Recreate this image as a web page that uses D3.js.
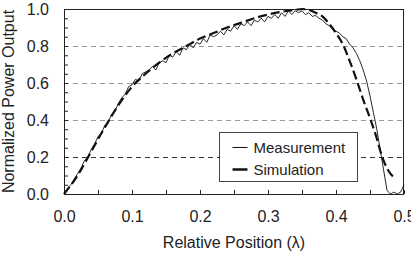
<!DOCTYPE html>
<html>
<head>
<meta charset="utf-8">
<script src="https://cdn.jsdelivr.net/npm/d3@7.9.0/dist/d3.min.js"></script>
<style>
  body { margin: 0; background: #fff; }
  text { font-family: "Liberation Sans", Arial, sans-serif; fill: #222; }
</style>
</head>
<body>
<script>
// measured curve, sampled every 0.005 from 0 to 0.5
const measStep = 0.005;
const measured = [
  0.00, 0.03, 0.05, 0.08, 0.11, 0.14, 0.18, 0.20, 0.24, 0.27,
  0.31, 0.33, 0.37, 0.39, 0.43, 0.45, 0.49, 0.52, 0.54, 0.58,
  0.59, 0.62, 0.61, 0.65, 0.66, 0.67, 0.69, 0.67, 0.71, 0.72,
  0.71, 0.75, 0.74, 0.77, 0.75, 0.79, 0.78, 0.81, 0.79, 0.82,
  0.81, 0.84, 0.82, 0.86, 0.85, 0.86, 0.88, 0.86, 0.89, 0.88,
  0.91, 0.89, 0.92, 0.91, 0.93, 0.91, 0.94, 0.93, 0.95, 0.93,
  0.96, 0.95, 0.97, 0.95, 0.98, 0.96, 0.99, 0.97, 0.99, 0.98,
  0.99, 0.97, 0.98, 0.96, 0.965, 0.95, 0.94, 0.92, 0.91, 0.89,
  0.88, 0.87, 0.85, 0.84, 0.81, 0.79, 0.76, 0.72, 0.67, 0.61,
  0.53, 0.44, 0.35, 0.24, 0.13, 0.02, 0.00, 0.01, 0.00, 0.01,
  0.05
];

// simulated curve
const simX = [0, 0.02, 0.04, 0.06, 0.08, 0.10, 0.12, 0.14, 0.16, 0.18,
  0.20, 0.22, 0.24, 0.26, 0.28, 0.30, 0.32, 0.34, 0.35, 0.36,
  0.37, 0.38, 0.39, 0.40, 0.41, 0.42, 0.43, 0.44, 0.45, 0.46,
  0.465, 0.47, 0.475, 0.48, 0.488];
const simY = [0, 0.10, 0.23, 0.36, 0.48, 0.58, 0.65, 0.71, 0.76, 0.80,
  0.84, 0.87, 0.90, 0.925, 0.95, 0.97, 0.985, 0.995, 1.0, 0.995,
  0.98, 0.96, 0.92, 0.87, 0.81, 0.72, 0.62, 0.51, 0.41, 0.30,
  0.235, 0.18, 0.14, 0.11, 0.085];

const xTicks = [0, 0.1, 0.2, 0.3, 0.4, 0.5];
const yTicks = [0, 0.2, 0.4, 0.6, 0.8, 1.0];
const gridVals = [0.2, 0.4, 0.6, 0.8];
const seriesNames = ["Measurement", "Simulation"];

const W = 411, H = 254;
const margin = { top: 9, right: 7, bottom: 60, left: 64 };
const width = W - margin.left - margin.right;
const height = H - margin.top - margin.bottom;
const fs = "16px";

const svg = d3.select("body").append("svg")
  .attr("width", W)
  .attr("height", H);

const g = svg.append("g")
  .attr("transform", `translate(${margin.left},${margin.top})`);

const x = d3.scaleLinear().domain([0, 0.5]).range([0, width]);
const y = d3.scaleLinear().domain([0, 1]).range([height, 0]);

// gridlines
g.selectAll(".grid")
  .data(gridVals)
  .enter().append("line")
  .attr("x1", 0).attr("x2", width)
  .attr("y1", d => Math.round(y(d)) + 0.5)
  .attr("y2", d => Math.round(y(d)) + 0.5)
  .attr("stroke", d => d === 0.2 ? "#333" : "#999")
  .attr("stroke-width", 1)
  .attr("stroke-dasharray", "5,4");

// axes: inward ticks every 0.05, labels every 0.1 / 0.2
const xAxis = d3.axisBottom(x).tickValues(d3.range(0, 0.501, 0.05))
  .tickSize(-4).tickPadding(17)
  .tickFormat(d => xTicks.some(t => Math.abs(t - d) < 1e-6) ? d3.format(".1f")(d) : "");
const yAxis = d3.axisLeft(y).tickValues(d3.range(0, 1.001, 0.05))
  .tickSize(-4).tickPadding(15)
  .tickFormat(d => yTicks.some(t => Math.abs(t - d) < 1e-6) ? d3.format(".1f")(d) : "");

const gx = g.append("g").attr("transform", `translate(0,${height})`).call(xAxis);
const gy = g.append("g").call(yAxis);
[gx, gy].forEach(a => {
  a.attr("font-size", null).attr("font-family", null);
  a.select(".domain").remove();
  a.selectAll("line").attr("stroke", "#222");
  a.selectAll("text").style("font-size", fs).attr("fill", "#222");
});

// frame
g.append("rect")
  .attr("x", 0.5).attr("y", 0.5)
  .attr("width", width - 1).attr("height", height)
  .attr("fill", "none").attr("stroke", "#222").attr("stroke-width", 1);

// simulation line
const simData = simX.map((v, i) => [v, simY[i]]);
g.append("path")
  .datum(simData)
  .attr("fill", "none")
  .attr("stroke", "#111")
  .attr("stroke-width", 2.2)
  .attr("stroke-dasharray", "9,4")
  .attr("d", d3.line().x(d => x(d[0])).y(d => y(d[1])).curve(d3.curveMonotoneX));

// measurement line
g.append("path")
  .datum(measured)
  .attr("fill", "none")
  .attr("stroke", "#111")
  .attr("stroke-width", 0.9)
  .attr("d", d3.line().x((d, i) => x(i * measStep)).y(d => y(d)));

// legend
const leg = svg.append("g").attr("transform", "translate(219.5,132.5)");
leg.append("rect")
  .attr("width", 138).attr("height", 49)
  .attr("fill", "#fff").attr("stroke", "#444");
seriesNames.forEach((name, i) => {
  const ly = 15 + i * 22;
  leg.append("line")
    .attr("x1", 13).attr("x2", 28)
    .attr("y1", ly).attr("y2", ly)
    .attr("stroke", "#111")
    .attr("stroke-width", i === 0 ? 1 : 2.5);
  leg.append("text")
    .attr("x", 34).attr("y", ly + 5.5)
    .style("font-size", "15px")
    .text(name);
});

// axis titles
svg.append("text")
  .attr("text-anchor", "middle")
  .attr("x", margin.left + width / 2)
  .attr("y", 248)
  .style("font-size", fs)
  .text("Relative Position (λ)");

svg.append("text")
  .attr("text-anchor", "middle")
  .attr("transform", `translate(14,${margin.top + height / 2}) rotate(-90)`)
  .style("font-size", fs)
  .text("Normalized Power Output");
</script>
</body>
</html>
